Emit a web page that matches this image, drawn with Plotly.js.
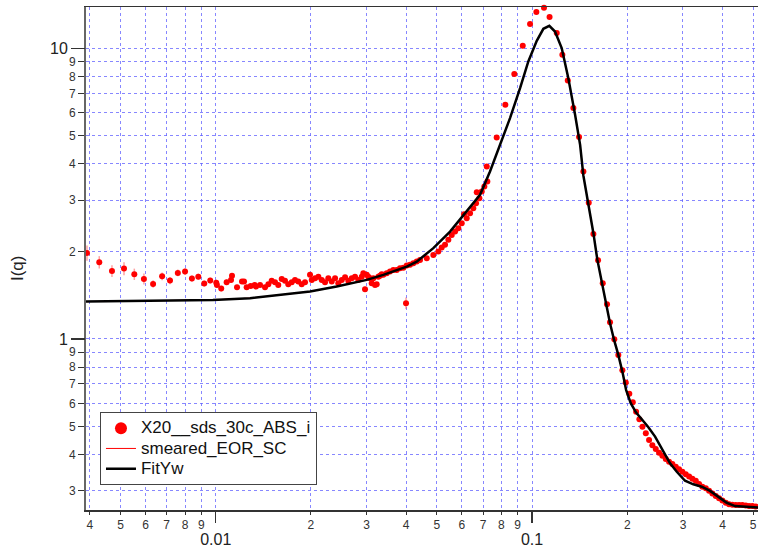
<!DOCTYPE html>
<html>
<head>
<meta charset="utf-8">
<script src="https://cdn.plot.ly/plotly-3.0.1.min.js"></script>
<style>html,body{margin:0;padding:0;background:#fff;}#chart{width:758px;height:547px;}</style>
</head>
<body>
<div id="chart"></div>
<script>
// Measured data: X20__sds_30c_ABS_i
const q = [
  0.003918,0.004285,0.00470,0.00513,0.00553,0.00593,0.00634,0.00677,0.00717,0.00759,
  0.00800,0.00841,0.00881,0.00920,0.00961,0.01004,0.01009,0.01041,0.01083,0.01118,
  0.01126,0.01168,0.01211,0.01229,0.01253,0.01290,0.01328,
  0.01341,0.01381,0.01432,0.01467,0.01503,0.01540,0.01577,0.01617,0.01656,0.01696,
  0.01739,0.01781,0.01824,0.01870,0.01916,0.01987,0.02012,0.02061,0.02111,0.02164,
  0.02216,0.02270,0.02327,0.02384,0.02441,0.02503,0.02564,0.02626,0.02692,0.02757,
  0.02824,0.02895,0.02929,0.02965,0.03002,0.03037,0.03075,0.03113,0.03150,0.03189,
  0.03228,0.03266,0.03306,0.03348,0.03387,0.03472,0.03557,0.03643,0.03734,0.03825,
  0.03918,0.03996,0.04017,0.04114,0.04214,0.04320,0.04425,
  0.04647,0.04875,0.05056,0.05182,0.05308,0.05438,0.05574,0.05710,0.05848,0.05994,
  0.06095,0.06216,0.06368,0.06522,0.06653,0.06687,0.06815,0.06934,0.07067,0.07192,0.07223,
  0.07732,0.08234,0.08790,0.09346,0.09856,0.1032,0.1091,0.1136,0.1197,0.1247,
  0.1297,0.1351,0.1408,0.1453,0.1511,0.1563,0.1617,0.1673,0.1726,0.1764,
  0.1820,0.1874,0.1930,0.1978,0.2030,0.2082,0.2133,0.2184,0.2233,0.2289,
  0.2344,0.2401,0.2461,0.2521,0.2582,0.2647,0.2711,0.2777,0.2847,0.2916,
  0.2987,0.3062,0.3137,0.3213,0.3293,0.3373,0.3455,0.3542,0.3628,0.3716,
  0.3809,0.3901,0.3996,0.4097,0.4196,0.4298,0.4406,0.4512,0.4623,0.4738,
  0.4853,0.4971,0.5095
];
const I = [
  1.977,1.837,1.714,1.746,1.670,1.609,1.546,1.643,1.587,1.687,
  1.705,1.613,1.638,1.550,1.587,1.562,1.534,1.490,1.567,1.596,
  1.651,1.507,1.575,1.575,1.507,1.522,1.534,
  1.514,1.534,1.507,1.543,1.584,1.567,1.534,1.609,1.584,1.543,
  1.567,1.596,1.575,1.543,1.567,1.661,1.596,1.618,1.638,1.596,
  1.567,1.618,1.575,1.618,1.555,1.596,1.631,1.584,1.618,1.638,
  1.596,1.638,1.683,1.483,1.661,1.638,1.618,1.555,1.618,1.534,
  1.543,1.638,1.651,1.670,1.661,1.683,1.705,1.728,1.728,1.751,
  1.759,1.327,1.788,1.798,1.822,1.845,1.870,
  1.896,1.946,1.998,2.062,2.107,2.192,2.280,2.340,2.404,2.501,
  2.687,2.603,2.708,2.818,2.932,3.199,3.050,3.215,3.344,3.918,3.479,
  4.932,6.391,8.150,10.20,12.12,13.32,13.79,12.82,11.28,9.50,
  7.745,6.226,4.948,3.767,2.939,2.298,1.866,1.555,1.317,1.142,
  0.998,0.881,0.780,0.708,0.648,0.606,0.562,0.529,0.499,0.474,
  0.449,0.431,0.418,0.406,0.396,0.386,0.378,0.371,0.363,0.356,
  0.349,0.342,0.336,0.330,0.325,0.317,0.310,0.306,0.300,0.294,
  0.288,0.283,0.278,0.273,0.270,0.269,0.268,0.268,0.268,0.267,
  0.266,0.266,0.265
];
const dI = [
  0.12,0.09,0.08,0.09,0.075,0.07,0.045,0.05,0.045,0.045,
  0.045,0.04,0.04,0.035,0.035,0.035,0.035,0.035,0.035,0.035,
  0.035,0.03,0.03,0.03,0.03,0.03,0.03,
  0.025,0.025,0.025,0.025,0.025,0.025,0.025,0.025,0.025,0.025,
  0.025,0.025,0.025,0.025,0.025,0.025,0.025,0.025,0.025,0.025,
  0.025,0.025,0.025,0.025,0.025,0.025,0.025,0.025,0.025,0.025,
  0.02,0.02,0.02,0.03,0.02,0.02,0.02,0.02,0.02,0.02,
  0.02,0.02,0.02,0.02,0.02,0.02,0.02,0.02,0.02,0.02,
  0.02,0.06,0.02,0.02,0.02,0.02,0.02,
  0.015,0.015,0.015,0.015,0.015,0.015,0.015,0.015,0.015,0.015,
  0.015,0.015,0.015,0.015,0.015,0.015,0.015,0.015,0.015,0.015,0.015,
  0.01,0.01,0.01,0.01,0.01,0.01,0.01,0.01,0.01,0.01,
  0.01,0.01,0.01,0.01,0.01,0.01,0.01,0.01,0.01,0.01,
  0.005,0.005,0.005,0.005,0.005,0.005,0.005,0.005,0.005,0.005,
  0.005,0.005,0.005,0.005,0.005,0.005,0.005,0.005,0.005,0.005,
  0.005,0.005,0.005,0.005,0.005,0.005,0.005,0.005,0.005,0.005,
  0.005,0.005,0.005,0.005,0.005,0.005,0.005,0.005,0.005,0.005,
  0.005,0.005,0.005
];
// Fit curve: FitYw (smeared_EOR_SC follows the same model)
const fitQ = [
  0.00389,0.00620,0.00980,0.01284,0.01636,0.01987,0.02413,0.03002,0.03387,0.04017,
  0.04320,0.04875,0.05506,0.06216,0.06849,0.07364,0.07923,0.08519,0.09166,0.09734,
  0.1035,0.1086,0.1134,0.1182,0.1241,0.1302,0.1368,0.1419,0.1453,0.1507,
  0.1563,0.1609,0.1661,0.1714,0.1764,0.1817,0.1874,0.1935,0.1983,0.2051,
  0.2133,0.2223,0.2332,0.2449,0.2601,0.2731,0.2868,0.3045,0.3236,0.3440,
  0.3654,0.3882,0.4125,0.4384,0.4773,0.5182
];
const fitI = [
  1.344,1.357,1.362,1.381,1.425,1.455,1.514,1.596,1.661,1.774,
  1.845,2.052,2.340,2.743,3.132,3.767,4.654,5.751,7.295,9.009,
  10.61,11.67,11.95,11.42,10.02,7.897,5.904,4.654,3.65,2.932,
  2.311,1.870,1.555,1.309,1.132,0.992,0.881,0.762,0.668,0.601,
  0.558,0.529,0.497,0.461,0.409,0.373,0.349,0.325,0.316,0.310,
  0.300,0.287,0.273,0.266,0.265,0.263
];
// Tick labels
const xMinorVals = [0.004,0.005,0.006,0.007,0.008,0.009,0.01,0.02,0.03,0.04,0.05,0.06,0.07,0.08,0.09,0.1,0.2,0.3,0.4,0.5];
const xMinorText = ['4','5','6','7','8','9','','2','3','4','5','6','7','8','9','','2','3','4','5'];
const xMajorVals = [0.01,0.1];
const xMajorText = ['0.01','0.1'];
const yMinorVals = [0.3,0.4,0.5,0.6,0.7,0.8,0.9,1,2,3,4,5,6,7,8,9,10];
const yMinorText = ['3','4','5','6','7','8','9','','2','3','4','5','6','7','8','9',''];
const yMajorVals = [1,10];
const yMajorText = ['1','10'];
const names = ['X20__sds_30c_ABS_i','smeared_EOR_SC','FitYw'];

const xr = [-2.410, -0.2857];
const yr = [-0.5887, 1.1421];
const FONT = 'Liberation Sans, Arial, sans-serif';
const gridC = 'rgba(95,95,255,0.75)';
const lg = s => '<span style="font-size:17px">' + s + '</span>';

const traces = [
  {x:q, y:I, type:'scatter', mode:'markers', showlegend:false, hoverinfo:'skip', cliponaxis:false,
   marker:{color:'#ff0000', size:6},
   error_y:{type:'data', array:dI, visible:true, color:'rgba(255,70,70,0.5)', thickness:1.5, width:0}},
  {x:[null], y:[null], type:'scatter', mode:'markers', name:lg(names[0]),
   marker:{color:'#ff0000', size:12}},
  {x:fitQ, y:fitI, type:'scatter', mode:'lines', name:lg(names[1]),
   line:{color:'#ff0000', width:1}},
  {x:fitQ, y:fitI, type:'scatter', mode:'lines', name:lg(names[2]),
   line:{color:'#000000', width:2.5}},
  {x:[null], y:[null], xaxis:'x2', yaxis:'y', showlegend:false, hoverinfo:'skip', mode:'markers'},
  {x:[null], y:[null], xaxis:'x', yaxis:'y2', showlegend:false, hoverinfo:'skip', mode:'markers'}
];

const layout = {
  width:758, height:547,
  margin:{l:86, r:0, t:7, b:37, pad:0},
  paper_bgcolor:'#ffffff', plot_bgcolor:'#ffffff',
  font:{family:FONT, color:'#222', size:12},
  xaxis:{type:'log', range:xr, tickmode:'array', tickvals:xMinorVals, ticktext:xMinorText,
    ticks:'outside', ticklen:3, tickcolor:'#333', tickwidth:1, tickfont:{size:12, color:'#333', family:FONT},
    showgrid:true, gridcolor:gridC, griddash:'dot', gridwidth:1,
    showline:true, linecolor:'#333', linewidth:1.5, mirror:true, zeroline:false},
  xaxis2:{type:'log', range:xr, overlaying:'x', anchor:'y', side:'bottom', tickmode:'array',
    tickvals:xMajorVals, ticktext:xMajorText, ticks:'outside', ticklen:12, tickwidth:1.2, tickcolor:'#333',
    tickfont:{size:16, color:'#222', family:FONT}, ticklabelstandoff:3,
    showgrid:false, showline:false, zeroline:false},
  yaxis:{type:'log', range:yr, tickmode:'array', tickvals:yMinorVals, ticktext:yMinorText,
    ticks:'outside', ticklen:6, tickcolor:'#333', tickwidth:1, tickfont:{size:12, color:'#333', family:FONT},
    showgrid:true, gridcolor:gridC, griddash:'dot', gridwidth:1,
    showline:true, linecolor:'#666', linewidth:2, mirror:false, zeroline:false},
  yaxis2:{type:'log', range:yr, overlaying:'y', anchor:'x', side:'left', tickmode:'array',
    tickvals:yMajorVals, ticktext:yMajorText, ticks:'outside', ticklen:14, tickwidth:1.2, tickcolor:'#333',
    tickfont:{size:16, color:'#222', family:FONT},
    showgrid:false, showline:false, zeroline:false},
  showlegend:true,
  legend:{x:0.0208, y:0.1948, xanchor:'left', yanchor:'top', bgcolor:'#ffffff',
    bordercolor:'#444', borderwidth:1, font:{size:13.3, family:FONT, color:'#111'},
    tracegroupgap:0, itemclick:false},
  annotations:[{text:'I(q)', xref:'paper', yref:'paper', x:-0.1027, y:0.481, showarrow:false,
    textangle:-90, xanchor:'center', yanchor:'middle', font:{size:17, family:FONT, color:'#222'}}]
};

Plotly.newPlot('chart', traces, layout, {displayModeBar:false, staticPlot:true});
</script>
</body>
</html>
